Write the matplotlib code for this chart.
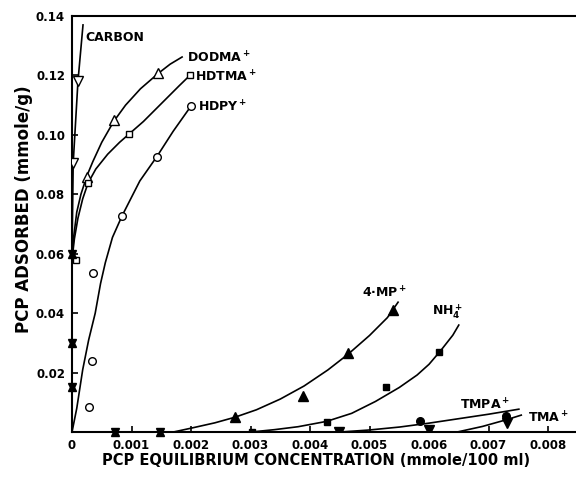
import matplotlib
matplotlib.use("Agg")
import matplotlib.pyplot as plt

plt.rcParams['font.family'] = ['DejaVu Sans']
plt.rcParams['font.weight'] = 'bold'
plt.rcParams['mathtext.default'] = 'bf'

# measured points (x: mmole/100 ml, y: mmole/g)
carbon_x = [0.00002, 0.0001]
carbon_y = [0.0905, 0.118]
dodma_x = [0.00025, 0.0007, 0.00145]
dodma_y = [0.0858, 0.105, 0.1208]
hdtma_x = [0.00007, 0.00027, 0.00096, 0.00198]
hdtma_y = [0.058, 0.0838, 0.1003, 0.120]
hdpy_x = [0.00029, 0.00033, 0.00035, 0.00084, 0.00143, 0.0020]
hdpy_y = [0.0084, 0.0239, 0.0535, 0.0727, 0.0925, 0.1097]
mp4_x = [0.00274, 0.00388, 0.00464, 0.0054]
mp4_y = [0.005, 0.0121, 0.0266, 0.041]
nh4_x = [0.00302, 0.00428, 0.00528, 0.00617]
nh4_y = [0.0, 0.0035, 0.0152, 0.027]
tmpa_x = [0.00585, 0.0073]
tmpa_y = [0.0037, 0.0054]
tma_x = [0.00449, 0.006, 0.00731]
tma_y = [0.0, 0.0007, 0.003]
# overlapping symbols (several salts at the same spot)
both_x = [0.0, 0.0, 0.0, 0.00072, 0.00148]
both_y = [0.06, 0.03, 0.015, 0.0, 0.0]

# hand-drawn curves
carbon_cx = [0.0, 0.0, 0.00002, 0.0001, 0.000185]
carbon_cy = [0.0, 0.06, 0.0905, 0.118, 0.137]
dodma_cx = [0.0, 0.00003, 0.00008, 0.00015, 0.00025, 0.00035, 0.0005, 0.0007,
            0.0009, 0.00115, 0.00145, 0.00165, 0.00185]
dodma_cy = [0.058, 0.066, 0.074, 0.080, 0.0862, 0.091, 0.0975, 0.1045,
            0.110, 0.1155, 0.1207, 0.1238, 0.1262]
hdtma_cx = [0.0, 0.00004, 0.0001, 0.00018, 0.00027, 0.0004, 0.0006, 0.0008,
            0.00096, 0.0012, 0.0015, 0.0018, 0.00198]
hdtma_cy = [0.058, 0.065, 0.072, 0.0785, 0.0838, 0.0885, 0.0935, 0.0975,
            0.1003, 0.1045, 0.1105, 0.1165, 0.120]
hdpy_cx = [0.0, 0.00008, 0.00018, 0.00028, 0.00039, 0.00048, 0.00056, 0.00068,
           0.00084, 0.001, 0.00114, 0.00143, 0.0017, 0.0020]
hdpy_cy = [0.0, 0.008, 0.021, 0.031, 0.040, 0.050, 0.057, 0.0655,
           0.0727, 0.079, 0.0845, 0.0928, 0.1012, 0.1097]
mp4_cx = [0.0017, 0.002, 0.0024, 0.00274, 0.0031, 0.0035, 0.0039, 0.0043,
          0.00464, 0.005, 0.0053, 0.00548]
mp4_cy = [0.0, 0.0013, 0.0031, 0.005, 0.0075, 0.0111, 0.0155, 0.0209,
          0.0262, 0.0325, 0.0385, 0.0437]
nh4_cx = [0.003, 0.0034, 0.0038, 0.00428, 0.0047, 0.0051, 0.0055, 0.0058,
          0.006, 0.0062, 0.0064, 0.0065]
nh4_cy = [0.0, 0.0008, 0.0018, 0.0036, 0.0063, 0.0103, 0.015, 0.0192,
          0.0228, 0.0275, 0.0326, 0.036]
tmpa_cx = [0.0045, 0.005, 0.00551, 0.006, 0.0065, 0.007, 0.00751]
tmpa_cy = [0.0, 0.0007, 0.0017, 0.0030, 0.0045, 0.006, 0.0077]
tma_cx = [0.00647, 0.0069, 0.00731, 0.00755]
tma_cy = [0.0, 0.0019, 0.0042, 0.0057]

fig = plt.figure(figsize=(5.76, 4.79), dpi=100)
ax = fig.add_axes([0.125, 0.098, 0.875, 0.8686])

lw = 1.2
for cx, cy in [(carbon_cx, carbon_cy), (dodma_cx, dodma_cy), (hdtma_cx, hdtma_cy),
               (hdpy_cx, hdpy_cy), (mp4_cx, mp4_cy), (nh4_cx, nh4_cy),
               (tmpa_cx, tmpa_cy), (tma_cx, tma_cy)]:
    ax.plot(cx, cy, color='black', lw=lw, zorder=2, solid_joinstyle='round')

ax.plot(carbon_x, carbon_y, 'v', ms=7, mfc='white', mec='black', mew=1.0, zorder=3)
ax.plot(dodma_x, dodma_y, '^', ms=7, mfc='white', mec='black', mew=1.0, zorder=3)
ax.plot(hdtma_x, hdtma_y, 's', ms=5, mfc='white', mec='black', mew=1.0, zorder=3)
ax.plot(hdpy_x, hdpy_y, 'o', ms=5.5, mfc='white', mec='black', mew=1.0, zorder=3)
ax.plot(mp4_x, mp4_y, '^', ms=7, color='black', zorder=3)
ax.plot(nh4_x, nh4_y, 's', ms=5, color='black', zorder=3)
ax.plot(tmpa_x, tmpa_y, 'o', ms=5.5, color='black', zorder=3)
ax.plot(tma_x, tma_y, 'v', ms=6.5, color='black', zorder=3)
ax.plot(both_x, both_y, '^', ms=6, color='black', zorder=3, clip_on=False)
ax.plot(both_x, both_y, 'v', ms=6, color='black', zorder=3, clip_on=False)

fs = 9
ax.text(0.000218, 0.1326, 'CARBON', fontsize=fs, va='center', ha='left')
ax.text(0.00193, 0.1259, 'DODMA$^+$', fontsize=fs, va='center', ha='left')
ax.text(0.00207, 0.1195, 'HDTMA$^+$', fontsize=fs, va='center', ha='left')
ax.text(0.00212, 0.1094, 'HDPY$^+$', fontsize=fs, va='center', ha='left')
ax.text(0.00487, 0.0468, '4\u00b7MP$^+$', fontsize=fs, va='center', ha='left')
ax.text(0.00605, 0.0404, 'NH$_4^+$', fontsize=fs, va='center', ha='left')
ax.text(0.00652, 0.0091, 'TMPA$^+$', fontsize=fs, va='center', ha='left')
ax.text(0.00766, 0.0047, 'TMA$^+$', fontsize=fs, va='center', ha='left')

ax.set_xlim(0, 0.00847)
ax.set_ylim(0, 0.14)
ax.set_xticks([0, 0.001, 0.002, 0.003, 0.004, 0.005, 0.006, 0.007, 0.008])
ax.set_xticklabels(['0', '0.001', '0.002', '0.003', '0.004', '0.005', '0.006', '0.007', '0.008'])
ax.set_yticks([0.02, 0.04, 0.06, 0.08, 0.10, 0.12, 0.14])
ax.set_yticklabels(['0.02', '0.04', '0.06', '0.08', '0.10', '0.12', '0.14'])
ax.tick_params(direction='in', length=4, width=1.2, labelsize=8.5, pad=5)
ax.spines['right'].set_visible(False)
for s in ['left', 'bottom', 'top']:
    ax.spines[s].set_linewidth(1.5)

ax.set_xlabel('PCP EQUILIBRIUM CONCENTRATION (mmole/100 ml)', fontsize=10.5,
              fontweight='bold')
ax.xaxis.set_label_coords(0.484, -0.051)
ax.set_ylabel('PCP ADSORBED (mmole/g)', fontsize=12, fontweight='bold')
ax.yaxis.set_label_coords(-0.077, 0.535)

fig.savefig('out.png', dpi=100)
